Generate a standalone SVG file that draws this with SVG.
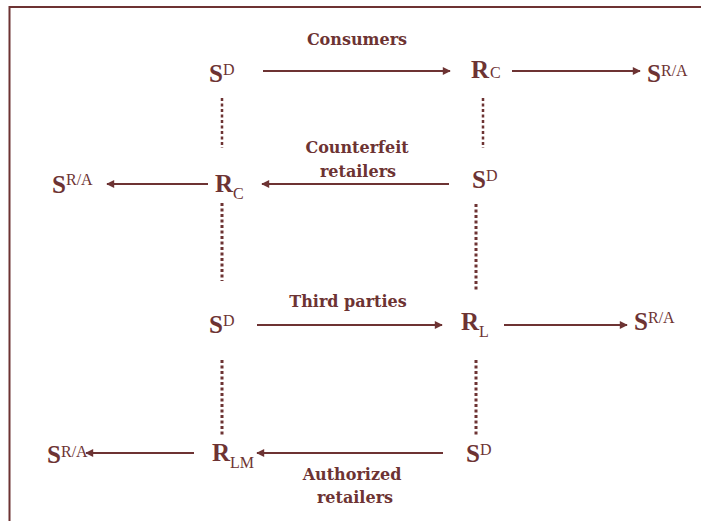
<svg xmlns="http://www.w3.org/2000/svg" width="701" height="521" viewBox="0 0 701 521">
<defs>
<style>
.big{font-family:"Liberation Serif","Times New Roman",serif;font-weight:bold;font-size:25px;fill:#6d3333}
.sup{font-family:"Liberation Serif","Times New Roman",serif;font-size:16px;fill:#6d3333}
.lbl{font-family:"DejaVu Serif",serif;font-weight:bold;font-size:16px;fill:#6d3333;text-anchor:middle}
.arr{stroke:#6d3333;stroke-width:2;fill:none;marker-end:url(#ah)}
.dot{stroke:#6d3333;stroke-width:3;stroke-dasharray:3 2.5;fill:none}
</style>
<marker id="ah" viewBox="0 0 10 10" refX="9" refY="5" markerWidth="4.5" markerHeight="4" orient="auto" markerUnits="strokeWidth">
<path d="M0,0 L10,5 L0,10 z" fill="#6d3333"/>
</marker>
</defs>
<rect width="701" height="521" fill="#fff"/>
<path d="M9.5,521 V7 H701" stroke="#6d3333" stroke-width="2" fill="none"/>

<g id="connectors">
<line class="arr" x1="263" y1="71" x2="450" y2="71"/>
<line class="arr" x1="512" y1="71" x2="640" y2="71"/>
<line class="arr" x1="208" y1="184" x2="107" y2="184"/>
<line class="arr" x1="449" y1="184" x2="262" y2="184"/>
<line class="arr" x1="257" y1="325" x2="442" y2="325"/>
<line class="arr" x1="504" y1="325" x2="627" y2="325"/>
<line class="arr" x1="194" y1="453" x2="86" y2="453"/>
<line class="arr" x1="443" y1="453" x2="257" y2="453"/>
<line class="dot" x1="222" y1="98" x2="222" y2="148" style="stroke-width:2.5"/>
<line class="dot" x1="483" y1="98" x2="483" y2="148" style="stroke-width:2.5"/>
<line class="dot" x1="222" y1="203" x2="222" y2="281"/>
<line class="dot" x1="476" y1="204" x2="476" y2="291"/>
<line class="dot" x1="222" y1="360" x2="222" y2="436"/>
<line class="dot" x1="476" y1="360" x2="476" y2="436"/>
</g>

<g id="labels">
<text class="lbl" x="357" y="45">Consumers</text>
<text class="lbl" x="357" y="153">Counterfeit</text>
<text class="lbl" x="358" y="177">retailers</text>
<text class="lbl" x="348" y="307">Third parties</text>
<text class="lbl" x="352" y="480">Authorized</text>
<text class="lbl" x="355" y="503">retailers</text>
</g>

<g id="n1-SD"><text class="big" x="209" y="82">S</text><text class="sup" x="223" y="75">D</text></g>
<g id="n1-Rc"><text class="big" x="471" y="78">R</text><text class="sup" x="490" y="78">C</text></g>
<g id="n1-SRA"><text class="big" x="647" y="82">S</text><text class="sup" x="661" y="76">R/A</text></g>

<g id="n2-SRA"><text class="big" x="52" y="193">S</text><text class="sup" x="66" y="185">R/A</text></g>
<g id="n2-RC"><text class="big" x="215" y="192">R</text><text class="sup" x="233" y="199">C</text></g>
<g id="n2-SD"><text class="big" x="472" y="188">S</text><text class="sup" x="486" y="181">D</text></g>

<g id="n3-SD"><text class="big" x="209" y="333">S</text><text class="sup" x="223" y="326">D</text></g>
<g id="n3-RL"><text class="big" x="461" y="330">R</text><text class="sup" x="479" y="337">L</text></g>
<g id="n3-SRA"><text class="big" x="634" y="330">S</text><text class="sup" x="648" y="323">R/A</text></g>

<g id="n4-SRA"><text class="big" x="47" y="463">S</text><text class="sup" x="61" y="457">R/A</text></g>
<g id="n4-RLM"><text class="big" x="212" y="461">R</text><text class="sup" x="230" y="468">LM</text></g>
<g id="n4-SD"><text class="big" x="466" y="462">S</text><text class="sup" x="480" y="455">D</text></g>
</svg>
